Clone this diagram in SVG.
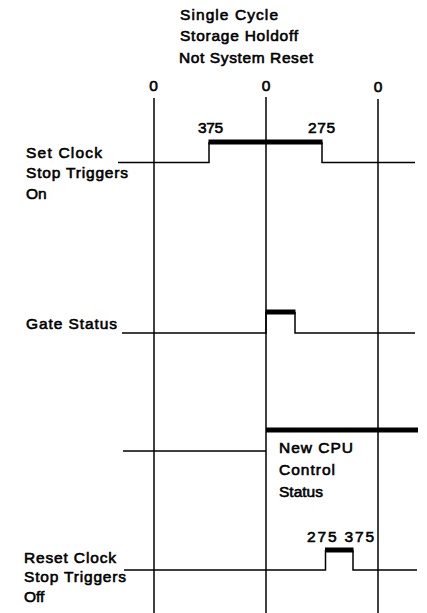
<svg xmlns="http://www.w3.org/2000/svg" width="427" height="613" viewBox="0 0 427 613">
<style>
text{font-family:"Liberation Sans",Arial,sans-serif;font-size:15.5px;fill:#000;stroke:#000;stroke-width:0.6}
.grid{stroke:#000;stroke-width:1.5;fill:none}
.low{stroke:#000;stroke-width:1.5;fill:none}
.high{stroke:#000;stroke-width:5;fill:none}
</style>
<rect width="427" height="613" fill="#fff"/>
<g id="title">
<text x="180" y="20" textLength="98" lengthAdjust="spacing">Single Cycle</text>
<text x="180" y="41" textLength="118" lengthAdjust="spacing">Storage Holdoff</text>
<text x="179" y="63" textLength="134" lengthAdjust="spacing">Not System Reset</text>
</g>
<g id="time-marks">
<text x="153.5" y="91" text-anchor="middle">0</text>
<text x="266" y="91" text-anchor="middle">0</text>
<text x="378" y="92" text-anchor="middle">0</text>
</g>
<g id="connectors">
<line class="grid" x1="154" y1="98" x2="154" y2="613"/>
<line class="grid" x1="266" y1="97" x2="266" y2="613"/>
<line class="grid" x1="378" y1="99" x2="378" y2="613"/>
</g>
<g id="set-clock">
<text x="26" y="158" textLength="76" lengthAdjust="spacing">Set Clock</text>
<text x="26" y="178" textLength="102" lengthAdjust="spacing">Stop Triggers</text>
<text x="26" y="199">On</text>
<text x="198" y="133" textLength="25" lengthAdjust="spacing">375</text>
<text x="308" y="133" textLength="27" lengthAdjust="spacing">275</text>
<polyline class="low" points="118,162.5 209,162.5 209,142"/>
<polyline class="low" points="322,142 322,162.5 415,162.5"/>
<line class="high" x1="208.5" y1="142" x2="322.5" y2="142"/>
</g>
<g id="gate-status">
<text x="26" y="329" textLength="91" lengthAdjust="spacing">Gate Status</text>
<polyline class="low" points="122,333 266,333 266,312"/>
<polyline class="low" points="295,312 295,333 415,333"/>
<line class="high" x1="265.5" y1="312" x2="295.5" y2="312"/>
</g>
<g id="new-cpu-control-status">
<line class="low" x1="123" y1="451" x2="266" y2="451"/>
<line class="high" x1="266" y1="430" x2="418" y2="430"/>
<text x="279" y="453" textLength="74" lengthAdjust="spacing">New CPU</text>
<text x="279" y="475" textLength="56" lengthAdjust="spacing">Control</text>
<text x="279" y="497" textLength="44" lengthAdjust="spacing">Status</text>
</g>
<g id="reset-clock">
<text x="24" y="563" textLength="92" lengthAdjust="spacing">Reset Clock</text>
<text x="24" y="582" textLength="102" lengthAdjust="spacing">Stop Triggers</text>
<text x="24" y="602">Off</text>
<text x="307" y="542" textLength="67" lengthAdjust="spacing">275  375</text>
<polyline class="low" points="124,570 325.5,570 325.5,550"/>
<polyline class="low" points="353,550 353,570 417,570"/>
<line class="high" x1="325" y1="550" x2="353.5" y2="550"/>
</g>
</svg>
